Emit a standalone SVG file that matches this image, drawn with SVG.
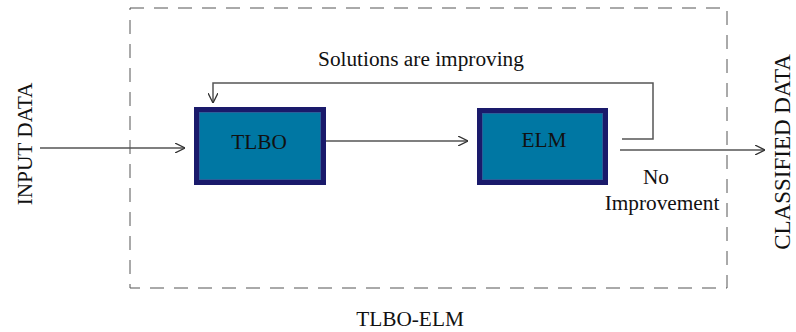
<svg xmlns="http://www.w3.org/2000/svg" width="796" height="332" viewBox="0 0 796 332">
<defs>
<style>
text{font-family:"Liberation Serif","Times New Roman",serif;font-size:21.3px;fill:#111}
.box{fill:#0077a3;stroke:#1a1a6b;stroke-width:5}
.inner{fill:none;stroke:#2a5f9a;stroke-width:1}
.ln{fill:none;stroke:#555;stroke-width:1.5}
</style>
<marker id="ah" viewBox="0 0 10 10" refX="10" refY="5" markerWidth="10" markerHeight="10" markerUnits="userSpaceOnUse" orient="auto"><path d="M0,0 L10,5 L0,10" fill="none" stroke="#333" stroke-width="1.3"/></marker>
</defs>
<rect x="130" y="8" width="597" height="280" fill="none" stroke="#555" stroke-width="1" stroke-dasharray="14,10"/>
<g id="connectors">
<path class="ln" d="M40,148 L185,148" marker-end="url(#ah)"/>
<path class="ln" d="M326,141 L468,141" marker-end="url(#ah)"/>
<path class="ln" d="M622,139 L653,139 L653,83 L213,83 L213,103" marker-end="url(#ah)"/>
<path class="ln" d="M620,150 L765,150" marker-end="url(#ah)"/>
</g>
<g id="tlbo">
<rect class="box" x="196.5" y="109.5" width="127" height="73"/>
<rect class="inner" x="199.5" y="112.5" width="121" height="67"/>
<text x="259" y="149" text-anchor="middle">TLBO</text>
</g>
<g id="elm">
<rect class="box" x="479.5" y="110.5" width="126" height="72"/>
<rect class="inner" x="482.5" y="113.5" width="120" height="66"/>
<text x="544" y="147" text-anchor="middle">ELM</text>
</g>
<text x="421" y="66" text-anchor="middle">Solutions are improving</text>
<text x="656" y="184" text-anchor="middle">No</text>
<text x="662" y="210" text-anchor="middle">Improvement</text>
<text x="410" y="326" text-anchor="middle">TLBO-ELM</text>
<text transform="translate(32,144) rotate(-90)" text-anchor="middle">INPUT DATA</text>
<text transform="translate(790,152) rotate(-90)" text-anchor="middle" style="font-size:23px">CLASSIFIED DATA</text>
</svg>
